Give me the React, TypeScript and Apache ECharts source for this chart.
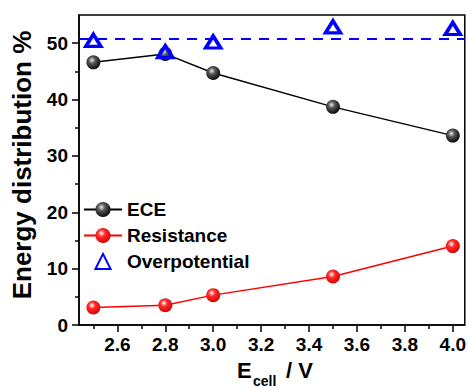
import React, { useEffect, useRef } from "react";
import * as echarts from "echarts";

const xValues = [2.5, 2.8, 3.0, 3.5, 4.0];
const eceValues = [46.6, 48.1, 44.7, 38.7, 33.6];
const resistanceValues = [3.1, 3.5, 5.3, 8.6, 14.0];
const overpotentialValues = [50.5, 48.5, 50.2, 52.9, 52.6];
const overpotentialMean = 50.7;
const xMajorTicks = [2.6, 2.8, 3.0, 3.2, 3.4, 3.6, 3.8, 4.0];
const xMinorTicks = [2.5, 2.7, 2.9, 3.1, 3.3, 3.5, 3.7, 3.9];
const yMajorTicks = [0, 10, 20, 30, 40, 50];
const yMinorTicks = [5, 15, 25, 35, 45];

const FONT = "'Liberation Sans', Arial, sans-serif";

const sphere = (hi: string, mid: string, edge: string) => ({
  type: "radial",
  x: 0.4,
  y: 0.35,
  r: 0.7,
  colorStops: [
    { offset: 0, color: hi },
    { offset: 0.35, color: mid },
    { offset: 1, color: edge },
  ],
});

export default function App() {
  const ref = useRef<HTMLDivElement>(null);
  useEffect(() => {
    if (!ref.current) return;
    const chart = echarts.init(ref.current, null, { renderer: "svg" });
    const pair = (ys: number[]) => xValues.map((x, i) => [x, ys[i]]);
    const axisLabelStyle = {
      color: "#000",
      fontSize: 19,
      fontWeight: "bold",
      fontFamily: FONT,
    };
    chart.setOption({
      animation: false,
      grid: {
        left: 79,
        top: 15,
        right: 2,
        bottom: 63,
        show: true,
        borderColor: "#000",
        borderWidth: 1.5,
        backgroundColor: "transparent",
      },
      xAxis: [
        {
          type: "value",
          min: 2.44,
          max: 4.05,
          position: "bottom",
          axisLine: { show: true, lineStyle: { color: "#000", width: 1.5 } },
          axisTick: {
            show: true,
            inside: false,
            length: 7,
            lineStyle: { color: "#000", width: 1.5 },
            customValues: xMajorTicks,
          },
          axisLabel: {
            ...axisLabelStyle,
            margin: 10,
            customValues: xMajorTicks,
            formatter: (v: number) => v.toFixed(1),
          },
          splitLine: { show: false },
        },
        {
          type: "value",
          min: 2.44,
          max: 4.05,
          position: "bottom",
          offset: 0,
          axisLine: { show: false },
          axisTick: {
            show: true,
            length: 4,
            lineStyle: { color: "#000", width: 1.5 },
            customValues: xMinorTicks,
          },
          axisLabel: { show: false },
          splitLine: { show: false },
        },
      ],
      yAxis: [
        {
          type: "value",
          min: 0,
          max: 55,
          position: "left",
          axisLine: { show: true, lineStyle: { color: "#000", width: 1.5 } },
          axisTick: {
            show: true,
            length: 7,
            lineStyle: { color: "#000", width: 1.5 },
            customValues: yMajorTicks,
          },
          axisLabel: {
            ...axisLabelStyle,
            margin: 11,
            customValues: yMajorTicks,
          },
          splitLine: { show: false },
        },
        {
          type: "value",
          min: 0,
          max: 55,
          position: "left",
          offset: 0,
          axisLine: { show: false },
          axisTick: {
            show: true,
            length: 4,
            lineStyle: { color: "#000", width: 1.5 },
            customValues: yMinorTicks,
          },
          axisLabel: { show: false },
          splitLine: { show: false },
        },
      ],
      legend: {
        orient: "vertical",
        left: 78,
        top: 195,
        padding: 5,
        itemWidth: 38,
        itemHeight: 19,
        itemGap: 7,
        data: ["ECE", "Resistance", "Overpotential"],
        textStyle: {
          color: "#000",
          fontSize: 19,
          fontWeight: "bold",
          fontFamily: FONT,
          lineHeight: 18,
        },
      },
      series: [
        {
          name: "Resistance",
          type: "line",
          data: pair(resistanceValues),
          symbol: "circle",
          symbolSize: 14,
          lineStyle: { color: "#ff0000", width: 1.5 },
          itemStyle: { color: sphere("#ffffff", "#ff2a2a", "#d00000") },
          z: 3,
        },
        {
          name: "ECE",
          type: "line",
          data: pair(eceValues),
          symbol: "circle",
          symbolSize: 14,
          lineStyle: { color: "#000000", width: 1.5 },
          itemStyle: { color: sphere("#e8e8e8", "#555555", "#000000") },
          z: 3,
        },
        {
          name: "Overpotential",
          type: "line",
          data: pair(overpotentialValues),
          symbol: "triangle",
          symbolSize: [15, 12],
          showSymbol: true,
          lineStyle: { width: 0, opacity: 0 },
          itemStyle: {
            color: "rgba(255,255,255,0)",
            borderColor: "#0000ff",
            borderWidth: 3.5,
          },
          z: 4,
          markLine: {
            silent: true,
            symbol: "none",
            label: { show: false },
            lineStyle: { color: "#0000ff", width: 2, type: [10, 8], opacity: 1 },
            data: [{ yAxis: overpotentialMean }],
          },
        },
      ],
      graphic: [
        {
          type: "text",
          x: 22,
          y: 165,
          rotation: Math.PI / 2,
          style: {
            text: "Energy distribution %",
            fill: "#000",
            font: `bold 26px ${FONT}`,
            align: "center",
            verticalAlign: "middle",
          },
        },
        {
          type: "text",
          x: 237,
          y: 370,
          style: {
            text: "E",
            fill: "#000",
            font: `bold 22px ${FONT}`,
            align: "left",
            verticalAlign: "middle",
          },
        },
        {
          type: "text",
          x: 253,
          y: 388,
          style: {
            text: "cell",
            fill: "#000",
            font: `bold 14px ${FONT}`,
            align: "left",
            verticalAlign: "bottom",
          },
        },
        {
          type: "text",
          x: 286,
          y: 370,
          style: {
            text: "/ V",
            fill: "#000",
            font: `bold 22px ${FONT}`,
            align: "left",
            verticalAlign: "middle",
          },
        },
      ],
    });
    return () => chart.dispose();
  }, []);
  return (
    <div
      ref={ref}
      style={{ position: "fixed", left: 0, top: 0, width: 469, height: 388, background: "#fff" }}
    />
  );
}
